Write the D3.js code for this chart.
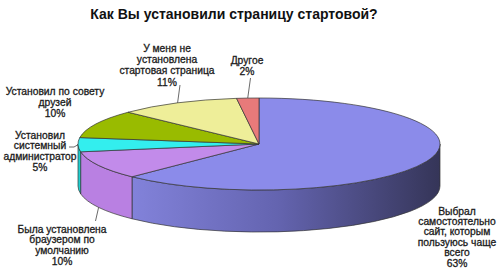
<!DOCTYPE html>
<html>
<head>
<meta charset="utf-8">
<script src="https://cdn.jsdelivr.net/npm/d3@7"></script>
<style>
  html, body { margin: 0; padding: 0; background: #fff; }
  svg { display: block; }
  text { font-family: "Liberation Sans", Arial, sans-serif; }
</style>
</head>
<body>
<svg id="chart" width="500" height="269"></svg>
<script>
// ---- data ----
const title = "Как Вы установили страницу стартовой?";
const categories = [
  "Выбрал самостоятельно сайт, которым пользуюсь чаще всего",
  "Была установлена браузером по умолчанию",
  "Установил системный администратор",
  "Установил по совету друзей",
  "У меня не установлена стартовая страница",
  "Другое"
];
const labelLines = [
  ["Выбрал", "самостоятельно", "сайт, которым", "пользуюсь чаще", "всего"],
  ["Была установлена", "браузером по", "умолчанию"],
  ["Установил", "системный", "администратор"],
  ["Установил по совету", "друзей"],
  ["У меня не", "установлена", "стартовая страница"],
  ["Другое"]
];
const values = [63, 10, 5, 10, 11, 2];

// ---- styles / layout ----
const topColors  = ["#8b8bea", "#c28bea", "#33eeee", "#99bb00", "#eeee99", "#e87a7a"];
const sideColors = ["url(#blueSide)", "#b980e2", "#1fcfcf", "#88a600", "#d8d880", "#d06868"];
const cx = 259, cy = 144, rx = 181, ry = 46, depth = 42;
// label block: centre x, first baseline, line height, leader end point
const labelLayout = [
  { x: 457, y: 214.5, lh: 10.4, lead: null },
  { x: 62,  y: 232.5, lh: 10.9, lead: [95.5, 221], side: true },
  { x: 40,  y: 138.5, lh: 10.9, lead: [69, 147], hook: 74 },
  { x: 55,  y: 94.5,  lh: 11.2, lead: null },
  { x: 167, y: 52,    lh: 11.2, lead: [180, 85] },
  { x: 247, y: 64,    lh: 11.2, lead: [250.5, 78] }
];

const svg = d3.select("#chart");
const defs = svg.append("defs");
const g = defs.append("linearGradient").attr("id", "blueSide")
  .attr("gradientUnits", "userSpaceOnUse")
  .attr("x1", cx - rx).attr("x2", cx + rx).attr("y1", 0).attr("y2", 0);
g.append("stop").attr("offset", 0).attr("stop-color", "#8a8ae4");
g.append("stop").attr("offset", 0.15).attr("stop-color", "#8282da");
g.append("stop").attr("offset", 0.55).attr("stop-color", "#6464b0");
g.append("stop").attr("offset", 1).attr("stop-color", "#353558");

const pie = d3.pie().sort(null).value(d => d).startAngle(0).endAngle(2 * Math.PI);
const arcs = pie(values);

const P = (a, dy = 0) => [cx + rx * Math.sin(a), cy - ry * Math.cos(a) + dy];

// side walls (front half: angles PI/2 .. 3PI/2)
arcs.forEach((d, i) => {
  const a0 = Math.max(d.startAngle, Math.PI / 2);
  const a1 = Math.min(d.endAngle, 3 * Math.PI / 2);
  if (a1 <= a0) return;
  const p0 = P(a0), p1 = P(a1), q1 = P(a1, depth), q0 = P(a0, depth);
  const large = (a1 - a0) > Math.PI ? 1 : 0;
  svg.append("path")
    .attr("d", `M${p0}A${rx},${ry} 0 ${large} 1 ${p1}L${q1}A${rx},${ry} 0 ${large} 0 ${q0}Z`)
    .attr("fill", sideColors[i])
    .attr("stroke", "#333")
    .attr("stroke-width", 0.7)
    .attr("stroke-linejoin", "round");
});

// top face
arcs.forEach((d, i) => {
  const p0 = P(d.startAngle), p1 = P(d.endAngle);
  const large = (d.endAngle - d.startAngle) > Math.PI ? 1 : 0;
  svg.append("path")
    .attr("d", `M${cx},${cy}L${p0}A${rx},${ry} 0 ${large} 1 ${p1}Z`)
    .attr("fill", topColors[i])
    .attr("stroke", "#333")
    .attr("stroke-width", 0.7)
    .attr("stroke-linejoin", "round");
});

// title
svg.append("text")
  .attr("x", 234).attr("y", 18.5)
  .attr("text-anchor", "middle")
  .attr("font-size", 14).attr("font-weight", "bold")
  .attr("fill", "#111")
  .text(title);

// labels and leader lines
arcs.forEach((d, i) => {
  const L = labelLayout[i];
  const lines = labelLines[i].concat([values[i] + "%"]);
  const t = svg.append("text")
    .attr("text-anchor", "middle")
    .attr("font-size", 10.3)
    .attr("fill", "#1a1a1a")
    .attr("stroke", "#1a1a1a")
    .attr("stroke-width", 0.3);
  lines.forEach((ln, k) => {
    t.append("tspan").attr("x", L.x).attr("y", L.y + k * L.lh).text(ln);
  });
  if (L.lead) {
    const mid = (d.startAngle + d.endAngle) / 2;
    const front = mid > Math.PI / 2 && mid < 3 * Math.PI / 2 && L.side;
    const e = P(mid, front ? depth : 0);
    const pts = L.hook ? [e, [L.hook, L.lead[1]], L.lead] : [e, L.lead];
    svg.append("path")
      .attr("d", d3.line()(pts))
      .attr("fill", "none")
      .attr("stroke", "#444")
      .attr("stroke-width", 0.8);
  }
});
</script>
</body>
</html>
